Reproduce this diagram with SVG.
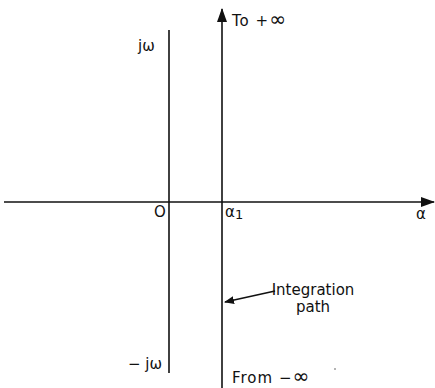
<svg xmlns="http://www.w3.org/2000/svg" width="435" height="388" viewBox="0 0 435 388">
<defs>
<style>
.ax{stroke:#111;stroke-width:1.6;fill:none}
.t{font-family:"DejaVu Sans",sans-serif;font-size:15px;fill:#111}
.big{font-size:20px}
</style>
<marker id="ah" markerWidth="10" markerHeight="8" refX="9" refY="4" orient="auto" markerUnits="userSpaceOnUse">
<path d="M0,0 L10,4 L0,8 Z" fill="#111"/>
</marker>
<marker id="ahb" markerWidth="14" markerHeight="10" refX="13" refY="5" orient="auto" markerUnits="userSpaceOnUse">
<path d="M0,0 L14,5 L0,10 Z" fill="#111"/>
</marker>
</defs>
<rect width="435" height="388" fill="#fff"/>
<g id="connectors">
<line class="ax" x1="4" y1="202" x2="434" y2="202" marker-end="url(#ahb)"/>
<line class="ax" x1="169" y1="30" x2="169" y2="373"/>
<line class="ax" x1="222" y1="388" x2="222" y2="9" marker-end="url(#ahb)"/>
<line class="ax" x1="275" y1="291" x2="225" y2="302" stroke-width="1.2" marker-end="url(#ah)"/>
</g>
<g id="labels">
<text class="t" x="232" y="26" letter-spacing="1">To +<tspan class="big">∞</tspan></text>
<text class="t" x="138" y="51" font-size="17">jω</text>
<text class="t" x="154" y="217">O</text>
<text class="t" x="225" y="217" font-size="19">α<tspan font-size="13" dy="2">1</tspan></text>
<text class="t" x="416" y="219" font-size="21">α</text>
<text class="t" x="313" y="295" text-anchor="middle">Integration</text>
<text class="t" x="313" y="312" text-anchor="middle">path</text>
<text class="t" x="128" y="369" font-size="17">− jω</text>
<text class="t" x="232" y="383" letter-spacing="1">From −<tspan class="big">∞</tspan></text>
<circle cx="335" cy="369" r="0.8" fill="#555"/>
</g>
</svg>
